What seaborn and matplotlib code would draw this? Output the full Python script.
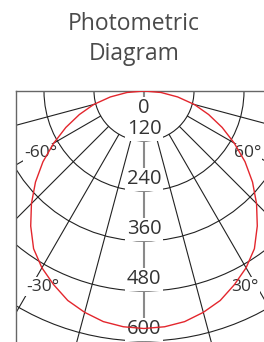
import numpy as np
import pandas as pd
import matplotlib
matplotlib.use("Agg")
import matplotlib.pyplot as plt
from matplotlib.patches import Circle
import seaborn as sns

# luminous intensity (cd), 0 deg = straight down
angles = [0, 5, 10, 15, 20, 25, 30, 35, 40, 45, 50, 55, 60, 65, 70, 75, 80, 85, 90]
intensity = [570, 568, 562, 550, 535, 513, 490, 462, 423, 382, 340, 296, 250, 207, 165, 125, 82, 41, 0]

rings = [120, 240, 360, 480, 600]
ring_labels = ["0", "120", "240", "360", "480", "600"]
spokes = [15, 30, 45, 60, 75]
angle_labels = [-60, 60, -30, 30]

sns.set_style("white")
plt.rcParams['font.family'] = ['Open Sans', 'DejaVu Sans']

# mirror the half curve to get the full symmetric distribution
th = np.radians(np.array([-a for a in angles[::-1]] + angles[1:]))
I = np.array(intensity[::-1] + intensity[1:])
df = pd.DataFrame({"x": I * np.sin(th), "y": -I * np.cos(th)})

fig = plt.figure(figsize=(2.64, 3.42), dpi=100)
ax = fig.add_axes([16 / 264, 0, 248 / 264, 251 / 342])
ax.set_xlim(-307.2, 288)
ax.set_ylim(-602.4, 0)

# grid: rings and spokes
for r in rings:
    ax.add_patch(Circle((0, 0), r, fill=False, color="#222222", lw=0.8, zorder=1))
for a in spokes:
    for s in (-1, 1):
        t = np.radians(s * a)
        ax.plot([120 * np.sin(t), 900 * np.sin(t)], [-120 * np.cos(t), -900 * np.cos(t)],
                color="#222222", lw=0.8, zorder=1)
ax.axvline(0, color="#8a8a8a", lw=1.5, zorder=1)

# intensity curve
sns.lineplot(data=df, x="x", y="y", sort=False, estimator=None,
             color="#e3262d", lw=1.0, ax=ax, zorder=3)

# ring labels sit just above each circle
box = dict(facecolor="white", edgecolor="none", pad=1)
for lab in ring_labels:
    v = int(lab)
    yy = -41 if v == 0 else -(v - 28)
    ax.text(0, yy, lab, ha="center", va="center", fontsize=14.5, color="#333333",
            bbox=box, zorder=2)

# angle labels, placed on their spokes
for a in angle_labels:
    xx = 248 if abs(a) == 60 else 243
    yy = -149 if abs(a) == 60 else -470
    ax.text(np.sign(a) * xx, yy, f"{a}°", ha="center", va="center", fontsize=12.5,
            color="#333333", bbox=box, zorder=2)

ax.set_xlabel("")
ax.set_ylabel("")
ax.set_xticks([])
ax.set_yticks([])
for side in ["right", "bottom"]:
    ax.spines[side].set_visible(False)
for side in ["left", "top"]:
    ax.spines[side].set_color("#666666")
    ax.spines[side].set_linewidth(1.0)

fig.text(0.508, 1 - 30 / 342, "Photometric", ha="center", va="baseline",
         fontsize=16.5, color="#4a4a4a")
fig.text(0.508, 1 - 60 / 342, "Diagram", ha="center", va="baseline",
         fontsize=16.5, color="#4a4a4a")

fig.savefig("out.png", dpi=100)
